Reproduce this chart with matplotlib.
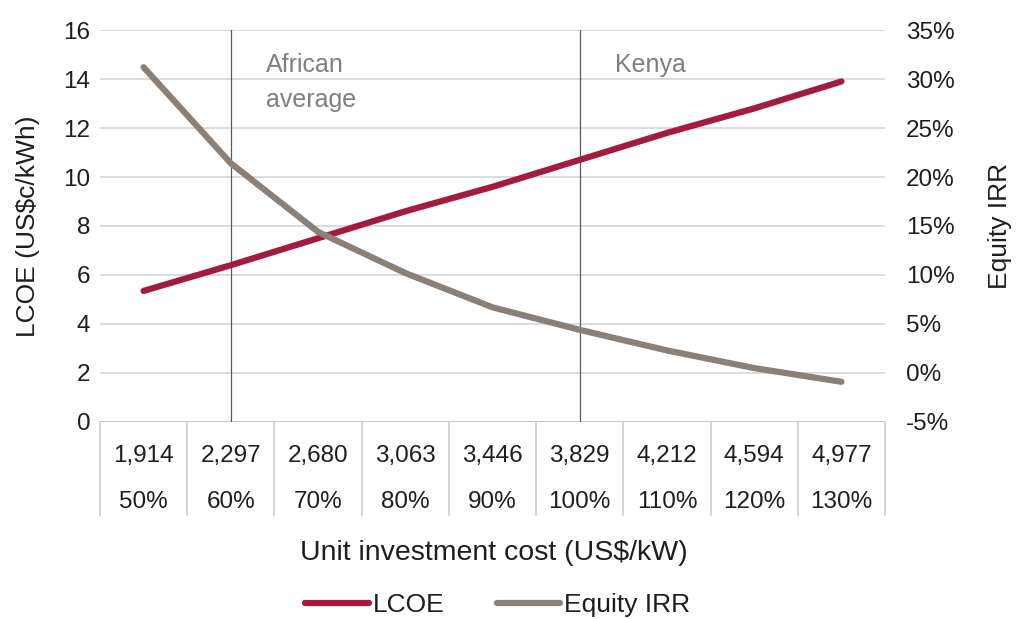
import matplotlib
matplotlib.use("Agg")
import matplotlib.pyplot as plt
from matplotlib.lines import Line2D
import matplotlib.transforms as mtransforms

plt.rcParams['font.family'] = ['Liberation Sans', 'DejaVu Sans']

cost_labels = ["1,914", "2,297", "2,680", "3,063", "3,446", "3,829", "4,212", "4,594", "4,977"]
pct_labels = ["50%", "60%", "70%", "80%", "90%", "100%", "110%", "120%", "130%"]
lcoe = [5.35, 6.4, 7.5, 8.6, 9.6, 10.7, 11.8, 12.8, 13.9]
equity_irr = [31.2, 21.4, 14.4, 10.2, 6.7, 4.4, 2.3, 0.5, -0.9]
markers = {"African\naverage": 1, "Kenya": 5}

RED = "#A51B3D"
GRAY = "#8A8078"
TXT = "#1E1E1E"
GRID = "#D9D9D9"

TICK_FS = 17.5
LABEL_FS = 19
LEG_FS = 19

fig = plt.figure(figsize=(10.18, 6.19), dpi=100)
ax = fig.add_axes([0.0982, 0.3183, 0.7712, 0.6332])
ax2 = ax.twinx()

n = len(cost_labels)
x = list(range(n))
ax.set_xlim(-0.5, n - 0.5)
ax.set_ylim(0, 16)
ax.set_yticks(range(0, 17, 2))
ax2.set_ylim(-5, 35)
ax2.set_yticks(range(-5, 36, 5))
ax2.set_yticklabels([f"{v}%" for v in range(-5, 36, 5)])

for a in (ax, ax2):
    for s in a.spines.values():
        s.set_visible(False)
    a.tick_params(length=0, labelsize=TICK_FS, colors=TXT)
ax.tick_params(axis='y', pad=7)
ax2.tick_params(axis='y', pad=15)
ax.set_xticks([])
ax.grid(axis='y', color=GRID, linewidth=1.3)
ax.set_axisbelow(True)
ax.axhline(0, color="#C8C8C8", linewidth=1.3)

for label, idx in markers.items():
    ax.axvline(idx, color="#595959", linewidth=0.9)
    ax.text(idx + 0.4, 15.05, label, color="#7F7F7F", fontsize=18, va='top', ha='left',
            linespacing=1.55)

ax.plot(x, lcoe, color=RED, linewidth=4.5, solid_capstyle='round', zorder=3)
ax2.plot(x, equity_irr, color=GRAY, linewidth=4.5, solid_capstyle='round', zorder=3)

ax.set_ylabel("LCOE (US$c/kWh)", fontsize=LABEL_FS, color=TXT, labelpad=17)
ax2.set_ylabel("Equity IRR", fontsize=LABEL_FS, color=TXT, labelpad=24)

# table under the axis
trans = mtransforms.blended_transform_factory(ax.transData, ax.transAxes)
for b in range(n + 1):
    ax.plot([b - 0.5, b - 0.5], [0, -0.237], transform=trans, color="#D0D0D0",
            linewidth=1.3, clip_on=False)
for i in x:
    ax.text(i, -0.088, cost_labels[i], transform=trans, ha='center', va='center',
            fontsize=TICK_FS, color=TXT)
    ax.text(i, -0.205, pct_labels[i], transform=trans, ha='center', va='center',
            fontsize=TICK_FS, color=TXT)

fig.text(0.485, 0.107, "Unit investment cost (US$/kW)", ha='center', va='center',
         fontsize=20.5, color=TXT)

handles = [Line2D([0], [0], color=RED, linewidth=4.5, solid_capstyle='round'),
           Line2D([0], [0], color=GRAY, linewidth=4.5, solid_capstyle='round')]
fig.legend(handles, ["LCOE", "Equity IRR"], loc='center', bbox_to_anchor=(0.489, 0.023),
           ncol=2, frameon=False, fontsize=LEG_FS, handlelength=2.4, handletextpad=0.15,
           columnspacing=2.0, labelcolor=TXT, borderpad=0)

fig.savefig("out.png", dpi=100, facecolor='white')
